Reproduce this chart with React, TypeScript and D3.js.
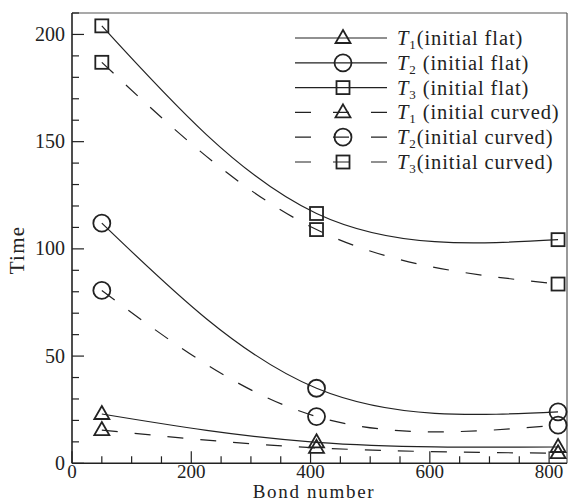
import React from "react";
import * as d3 from "d3";

const bondNumbers = [50, 410, 815];
const t1Flat = [23, 9.8, 7.6];
const t2Flat = [112, 35, 24];
const t3Flat = [204, 116.5, 104.3];
const t1Curved = [15.5, 7.2, 4.7];
const t2Curved = [80.6, 21.8, 17.8];
const t3Curved = [187, 109, 83.6];

const xTicks = [0, 200, 400, 600, 800];
const yTicks = [0, 50, 100, 150, 200];

type Series = { idx: string; label: string; spaced: boolean; values: number[]; marker: string; dashed: boolean };
const seriesList: Series[] = [
  { idx: "1", label: "(initial flat)", spaced: false, values: t1Flat, marker: "tri", dashed: false },
  { idx: "2", label: "(initial flat)", spaced: true, values: t2Flat, marker: "circ", dashed: false },
  { idx: "3", label: "(initial flat)", spaced: true, values: t3Flat, marker: "sq", dashed: false },
  { idx: "1", label: "(initial curved)", spaced: true, values: t1Curved, marker: "tri", dashed: true },
  { idx: "2", label: "(initial curved)", spaced: false, values: t2Curved, marker: "circ", dashed: true },
  { idx: "3", label: "(initial curved)", spaced: false, values: t3Curved, marker: "sq", dashed: true },
];

const W = 583, H = 503;
const x = d3.scaleLinear().domain([0, 830]).range([72, 567]);
const y = d3.scaleLinear().domain([0, 210]).range([463.3, 13]);
const ink = "#222";
const font = "'Liberation Serif', 'Times New Roman', serif";

function Marker({ type, cx, cy }: { type: string; cx: number; cy: number }) {
  const common = { fill: "none", stroke: ink, strokeWidth: 1.8 };
  if (type === "circ") return <circle cx={cx} cy={cy} r={8.5} {...common} />;
  if (type === "sq") return <rect x={cx - 6.5} y={cy - 6.5} width={13} height={13} {...common} />;
  return <path d={`M${cx},${cy - 8}L${cx + 7.5},${cy + 5}L${cx - 7.5},${cy + 5}Z`} {...common} />;
}

export default function App() {
  const line = d3
    .line<number>()
    .x((_, i) => x(bondNumbers[i]))
    .y((d) => y(d))
    .curve(d3.curveNatural);

  const xMinor = d3.range(0, 801, 50);
  const yMinor = d3.range(0, 211, 10);

  return (
    <svg width={W} height={H} style={{ position: "absolute", left: 0, top: 0 }} fontFamily={font}>
      <rect width={W} height={H} fill="#fff" />
      {/* frame */}
      <line x1={x.range()[0]} x2={x.range()[1]} y1={y.range()[1]} y2={y.range()[1]} stroke="#555" strokeWidth={1.2} />
      <line x1={x.range()[1]} x2={x.range()[1]} y1={y.range()[1]} y2={y.range()[0]} stroke="#555" strokeWidth={1.2} />
      {/* curves */}
      {seriesList.map((s, i) => (
        <path
          key={"l" + i}
          d={line(s.values)!}
          fill="none"
          stroke={ink}
          strokeWidth={1.2}
          strokeDasharray={s.dashed ? "16 17" : undefined}
        />
      ))}
      {seriesList.map((s, i) =>
        s.values.map((v, j) => <Marker key={"m" + i + "-" + j} type={s.marker} cx={x(bondNumbers[j])} cy={y(v)} />)
      )}
      {/* axes */}
      <line x1={x.range()[0]} x2={x.range()[1]} y1={y(0)} y2={y(0)} stroke={ink} strokeWidth={1.6} />
      <line x1={x(0)} x2={x(0)} y1={y.range()[0]} y2={y.range()[1]} stroke={ink} strokeWidth={1.6} />
      {xMinor.map((t) => (
        <line key={"xt" + t} x1={x(t)} x2={x(t)} y1={y(0)} y2={y(0) - (t % 200 === 0 ? 12 : 7)} stroke={ink} strokeWidth={1.2} />
      ))}
      {yMinor.map((t) => (
        <line key={"yt" + t} x1={x(0)} x2={x(0) + (t % 50 === 0 ? 12 : 7)} y1={y(t)} y2={y(t)} stroke={ink} strokeWidth={1.2} />
      ))}
      {xTicks.map((t) => (
        <text key={"xl" + t} x={x(t)} y={478} textAnchor="middle" fontSize={19} fill={ink}>
          {t}
        </text>
      ))}
      {yTicks.map((t) => (
        <text key={"yl" + t} x={65} y={y(t) + 6.5} textAnchor="end" fontSize={20} fill={ink}>
          {t}
        </text>
      ))}
      <text x={314} y={497.5} textAnchor="middle" fontSize={19} letterSpacing={1.7} fill={ink}>
        Bond number
      </text>
      <text transform={`translate(24,250) rotate(-90)`} textAnchor="middle" fontSize={21} letterSpacing={1.2} fill={ink}>
        Time
      </text>
      {/* legend */}
      {seriesList.map((s, i) => {
        const ly = 38 + i * 24.8;
        return (
          <g key={"lg" + i}>
            <line x1={295} x2={387} y1={ly} y2={ly} stroke={ink} strokeWidth={1.2} strokeDasharray={s.dashed ? "16 22" : undefined} />
            <Marker type={s.marker} cx={343} cy={ly} />
            <text x={397} y={ly + 7} fontSize={20.5} letterSpacing={0.9} fill={ink}>
              <tspan fontStyle="italic">T</tspan>
              <tspan fontSize={13} dy={4}>{s.idx}</tspan>
              <tspan dy={-4}>{(s.spaced ? "\u00a0" : "") + s.label}</tspan>
            </text>
          </g>
        );
      })}
    </svg>
  );
}
